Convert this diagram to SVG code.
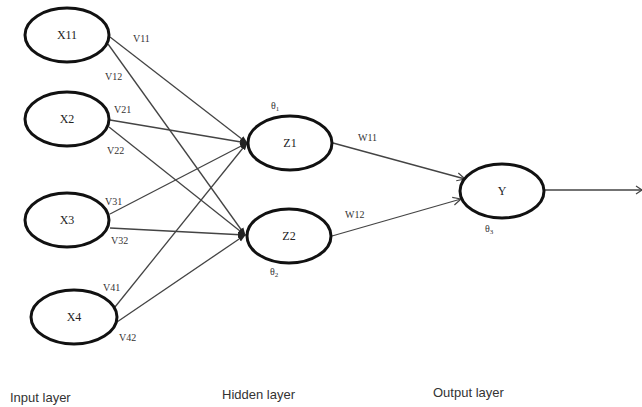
<svg xmlns="http://www.w3.org/2000/svg" width="642" height="407" viewBox="0 0 642 407">
<style>
.node{fill:#fff;stroke:#111;stroke-width:3}
.nl{font-family:"Liberation Serif",serif;font-size:12px;fill:#222;text-anchor:middle}
.w{font-family:"Liberation Serif",serif;font-size:10px;fill:#333}
.th{font-family:"Liberation Serif",serif;font-size:10px;fill:#333}
.edge{stroke:#444;stroke-width:1.3;fill:none}
.lay{font-family:"Liberation Sans",sans-serif;font-size:13px;fill:#333}
</style>
<defs>
<marker id="solid" markerWidth="8" markerHeight="8" refX="7" refY="4" orient="auto" markerUnits="userSpaceOnUse">
<path d="M0,1 L8,4 L0,7 z" fill="#222"/>
</marker>
<marker id="open" markerWidth="10" markerHeight="10" refX="9" refY="5" orient="auto" markerUnits="userSpaceOnUse">
<path d="M1,1 L9,5 L1,9" fill="none" stroke="#444" stroke-width="1.2"/>
</marker>
</defs>
<g id="connectors">
<line class="edge" x1="110" y1="37" x2="247" y2="143" marker-end="url(#solid)"/>
<line class="edge" x1="108" y1="44" x2="245" y2="235" marker-end="url(#solid)"/>
<line class="edge" x1="110" y1="120" x2="247" y2="143" marker-end="url(#solid)"/>
<line class="edge" x1="109" y1="127" x2="245" y2="235" marker-end="url(#solid)"/>
<line class="edge" x1="110" y1="214" x2="247" y2="143" marker-end="url(#solid)"/>
<line class="edge" x1="110" y1="228" x2="245" y2="235" marker-end="url(#solid)"/>
<line class="edge" x1="115" y1="307" x2="247" y2="143" marker-end="url(#solid)"/>
<line class="edge" x1="117" y1="322" x2="245" y2="235" marker-end="url(#solid)"/>
<line class="edge" x1="333" y1="143" x2="465" y2="179" marker-end="url(#open)"/>
<line class="edge" x1="332" y1="236" x2="461" y2="199" marker-end="url(#open)"/>
<line class="edge" x1="545" y1="190" x2="642" y2="190"/>
<path d="M636,186 L642,190 L636,194" fill="none" stroke="#444" stroke-width="1.2"/>
</g>
<g id="labels">
<text class="w" x="133" y="42">V11</text>
<text class="w" x="105" y="80">V12</text>
<text class="w" x="114" y="113">V21</text>
<text class="w" x="107" y="154">V22</text>
<text class="w" x="105" y="205">V31</text>
<text class="w" x="111" y="244">V32</text>
<text class="w" x="103" y="291">V41</text>
<text class="w" x="119" y="341">V42</text>
<text class="w" x="358" y="141">W11</text>
<text class="w" x="345" y="218">W12</text>
<text class="th" x="271" y="109">θ<tspan font-size="7" dy="2">1</tspan></text>
<text class="th" x="270" y="275">θ<tspan font-size="7" dy="2">2</tspan></text>
<text class="th" x="485" y="232">θ<tspan font-size="7" dy="2">3</tspan></text>
</g>
<g id="X11"><ellipse class="node" cx="67" cy="35" rx="42" ry="27"/><text class="nl" x="67" y="39">X11</text></g>
<g id="X2"><ellipse class="node" cx="67" cy="119" rx="42" ry="27"/><text class="nl" x="67" y="123">X2</text></g>
<g id="X3"><ellipse class="node" cx="67" cy="220" rx="42" ry="27"/><text class="nl" x="67" y="224">X3</text></g>
<g id="X4"><ellipse class="node" cx="74" cy="317" rx="43" ry="27"/><text class="nl" x="74" y="321">X4</text></g>
<g id="Z1"><ellipse class="node" cx="290" cy="143" rx="42" ry="27"/><text class="nl" x="290" y="147">Z1</text></g>
<g id="Z2"><ellipse class="node" cx="289" cy="236" rx="42" ry="27"/><text class="nl" x="289" y="240">Z2</text></g>
<g id="Y"><ellipse class="node" cx="502" cy="191" rx="42" ry="27"/><text class="nl" x="502" y="195">Y</text></g>
<g id="layers">
<text class="lay" x="10" y="402">Input layer</text>
<text class="lay" x="222" y="399">Hidden layer</text>
<text class="lay" x="433" y="397">Output layer</text>
</g>
</svg>
